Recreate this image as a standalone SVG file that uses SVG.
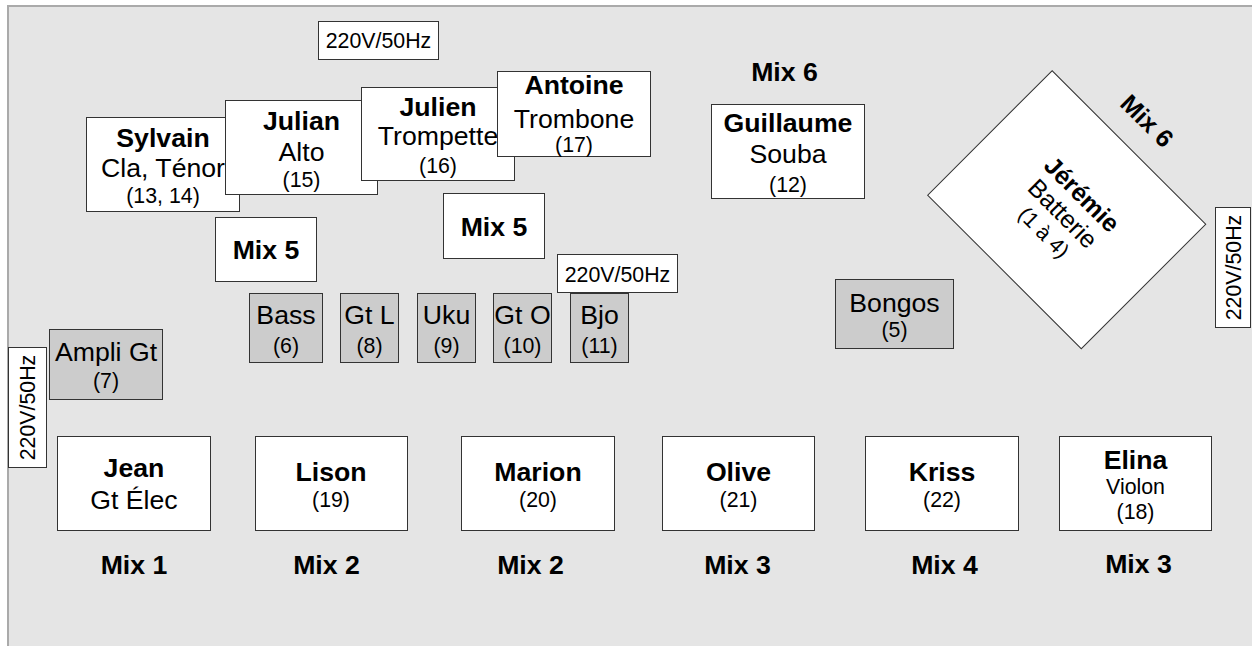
<svg xmlns="http://www.w3.org/2000/svg" width="1252" height="646" viewBox="0 0 1252 646">
<style>
.panel{fill:#e5e5e5;stroke:#aaaaaa;stroke-width:2}
.box{fill:#ffffff;stroke:#333333;stroke-width:1}
.dev{fill:#cccccc;stroke:#333333;stroke-width:1}
text{font-family:"Liberation Sans",Arial,Helvetica,sans-serif;fill:#000000;text-anchor:middle}
.b{font-weight:bold;font-size:26.67px}
.n{font-size:26.67px}
.s{font-size:21.33px}
</style>
<rect width="1252" height="646" fill="#ffffff"/>
<rect class="panel" x="8" y="6" width="1260" height="660"/>
<g id="connectors"/>
<g id="power-top"><rect class="box" x="318.5" y="21.5" width="120" height="38"/><text class="s" x="378.5" y="48.3">220V/50Hz</text></g>
<g id="sylvain"><rect class="box" x="86.5" y="117.5" width="153" height="94"/><text class="b" x="163" y="146.7">Sylvain</text><text class="n" x="163" y="177.3">Cla, Ténor</text><text class="s" x="163" y="202.7">(13, 14)</text></g>
<g id="julian"><rect class="box" x="225.5" y="100.5" width="152" height="94"/><text class="b" x="301.5" y="130">Julian</text><text class="n" x="301.5" y="161.3">Alto</text><text class="s" x="301.5" y="186.7">(15)</text></g>
<g id="julien"><rect class="box" x="361.5" y="87.5" width="153" height="93"/><text class="b" x="438" y="115.7">Julien</text><text class="n" x="438" y="145">Trompette</text><text class="s" x="438" y="172.5">(16)</text></g>
<g id="antoine"><rect class="box" x="497.5" y="71.5" width="153" height="85"/><text class="b" x="574" y="94.3">Antoine</text><text class="n" x="574" y="127.7">Trombone</text><text class="s" x="574" y="152.3">(17)</text></g>
<g id="mix6-label"><text class="b" x="784.5" y="80.7">Mix 6</text></g>
<g id="guillaume"><rect class="box" x="711.5" y="104.5" width="153" height="94"/><text class="b" x="788" y="131.7">Guillaume</text><text class="n" x="788" y="163.3">Souba</text><text class="s" x="788" y="191.7">(12)</text></g>
<g id="jeremie" transform="translate(1066.7,209.7) rotate(45)"><rect class="box" x="-108.6" y="-88" width="217.2" height="176"/><text font-weight="bold" font-size="25px" x="0" y="-13">Jérémie</text><text font-size="25px" x="0" y="14.2">Batterie</text><text font-size="21.33px" x="0" y="39.5">(1 à 4)</text></g>
<g id="mix6-drum" transform="translate(1147.3,120.7) rotate(45)"><text font-weight="bold" font-size="25px" x="0" y="9">Mix 6</text></g>
<g id="power-right"><rect class="box" x="1215.5" y="207.5" width="35" height="120"/><text class="s" transform="translate(1240.5,267.5) rotate(-90)" x="0" y="0">220V/50Hz</text></g>
<g id="mix5-left"><rect class="box" x="215.5" y="217.5" width="101" height="64"/><text class="b" x="266" y="259.3">Mix 5</text></g>
<g id="mix5-center"><rect class="box" x="443.5" y="193.5" width="101" height="65"/><text class="b" x="494" y="236">Mix 5</text></g>
<g id="bass"><rect class="dev" x="249.5" y="293.5" width="73" height="69"/><text class="n" x="286" y="324">Bass</text><text class="s" x="286" y="352.7">(6)</text></g>
<g id="gtl"><rect class="dev" x="340.5" y="293.5" width="58" height="69"/><text class="n" x="369.5" y="324">Gt L</text><text class="s" x="369.5" y="352.7">(8)</text></g>
<g id="uku"><rect class="dev" x="417.5" y="293.5" width="58" height="69"/><text class="n" x="446.5" y="324">Uku</text><text class="s" x="446.5" y="352.7">(9)</text></g>
<g id="gto"><rect class="dev" x="493.5" y="293.5" width="58" height="69"/><text class="n" x="522.5" y="324">Gt O</text><text class="s" x="522.5" y="352.7">(10)</text></g>
<g id="bjo"><rect class="dev" x="570.5" y="293.5" width="58" height="69"/><text class="n" x="599.5" y="324">Bjo</text><text class="s" x="599.5" y="352.7">(11)</text></g>
<g id="power-center"><rect class="box" x="557.5" y="254.5" width="120" height="38"/><text class="s" x="617.5" y="281.7">220V/50Hz</text></g>
<g id="bongos"><rect class="dev" x="835.5" y="279.5" width="118" height="69"/><text class="n" x="894.5" y="311.7">Bongos</text><text class="s" x="894.5" y="337.3">(5)</text></g>
<g id="ampli"><rect class="dev" x="49.5" y="329.5" width="113" height="70"/><text class="n" x="106" y="360.7">Ampli Gt</text><text class="s" x="106" y="388.3">(7)</text></g>
<g id="power-left"><rect class="box" x="8.5" y="347.5" width="38" height="120"/><text class="s" transform="translate(35,407.5) rotate(-90)" x="0" y="0">220V/50Hz</text></g>
<g id="jean"><rect class="box" x="57.5" y="436.5" width="153" height="94"/><text class="b" x="134" y="476.7">Jean</text><text class="n" x="134" y="508.7">Gt Élec</text><text class="b" x="134" y="574">Mix 1</text></g>
<g id="lison"><rect class="box" x="255.5" y="436.5" width="152" height="94"/><text class="b" x="331" y="481">Lison</text><text class="s" x="331" y="507.3">(19)</text><text class="b" x="326.5" y="574">Mix 2</text></g>
<g id="marion"><rect class="box" x="461.5" y="436.5" width="153" height="94"/><text class="b" x="538" y="481">Marion</text><text class="s" x="538" y="507.3">(20)</text><text class="b" x="530.5" y="574">Mix 2</text></g>
<g id="olive"><rect class="box" x="662.5" y="436.5" width="152" height="94"/><text class="b" x="738.5" y="481">Olive</text><text class="s" x="738.5" y="507.3">(21)</text><text class="b" x="737.5" y="574">Mix 3</text></g>
<g id="kriss"><rect class="box" x="865.5" y="436.5" width="153" height="94"/><text class="b" x="942" y="481">Kriss</text><text class="s" x="942" y="507.3">(22)</text><text class="b" x="944.5" y="574">Mix 4</text></g>
<g id="elina"><rect class="box" x="1059.5" y="436.5" width="152" height="94"/><text class="b" x="1135.5" y="469">Elina</text><text class="s" x="1135.5" y="494">Violon</text><text class="s" x="1135.5" y="518.5">(18)</text><text class="b" x="1138.5" y="572.7">Mix 3</text></g>
</svg>
